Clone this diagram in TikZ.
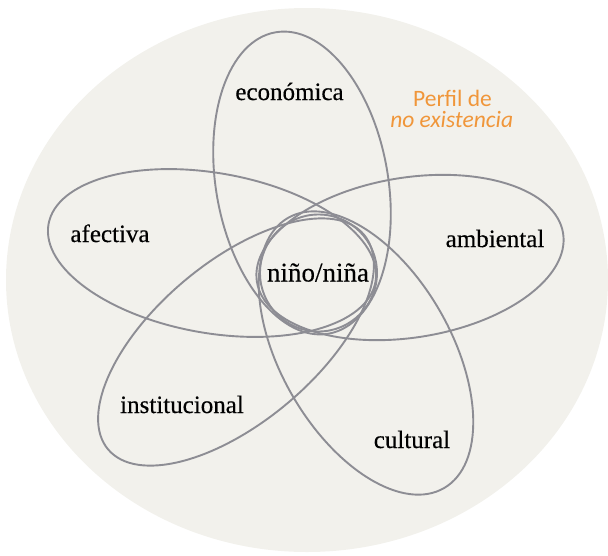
\documentclass[tikz,border=0pt]{standalone}
\usepackage{fontspec}
\setmainfont{Liberation Serif}
\newfontfamily\bodyfont{Liberation Serif}[FakeBold=0.35]
\newfontfamily\perfilfont{Carlito}
\usetikzlibrary{shapes.geometric}
\definecolor{bgc}{RGB}{242,241,236}
\definecolor{linec}{RGB}{141,141,148}
\definecolor{orangec}{RGB}{240,150,58}
\tikzset{
  petal/.style={draw=linec, line width=1.9pt, ellipse, inner sep=0pt},
  core/.style={draw=linec, line width=1.9pt, circle, inner sep=0pt, minimum size=117pt},
  lbl/.style={anchor=base, inner sep=0pt, font=\bodyfont\fontsize{25}{30}\selectfont, text=black},
  perfil/.style={anchor=base, inner sep=0pt, font=\perfilfont\fontsize{23.5}{28}\selectfont, text=orangec}
}
\begin{document}
\begin{tikzpicture}[x=1pt,y=-1pt]
\useasboundingbox (0,0) rectangle (608,555);
\fill[bgc] (307,280) ellipse [x radius=301pt, y radius=272pt];
\node[petal, minimum width=306pt, minimum height=172pt, rotate=100] (econ) at (302,183) {};
\node[petal, minimum width=332pt, minimum height=160pt, rotate=-10] (afec) at (212,253) {};
\node[petal, minimum width=310pt, minimum height=160pt, rotate=9] (ambi) at (410,257.5) {};
\node[petal, minimum width=334pt, minimum height=160pt, rotate=40] (inst) at (236,342) {};
\node[petal, minimum width=312pt, minimum height=170pt, rotate=-60] (cult) at (366,353) {};
\node[core] (nino) at (318.5,273) {};
\node[lbl] (teco) at (289.5,100) {económica};
\node[lbl] (tafe) at (110,242) {afectiva};
\node[lbl] (tamb) at (495,247) {ambiental};
\node[lbl] (tins) at (182,413) {institucional};
\node[lbl] (tcul) at (412,448) {cultural};
\node[lbl, font=\bodyfont\fontsize{27}{30}\selectfont] (tnin) at (318,281.5) {niño/niña};
\node[perfil] (per1) at (452.5,106) {Perfil de};
\node[perfil] (per2) at (451.7,127.5) {\itshape no existencia};
\end{tikzpicture}
\end{document}
